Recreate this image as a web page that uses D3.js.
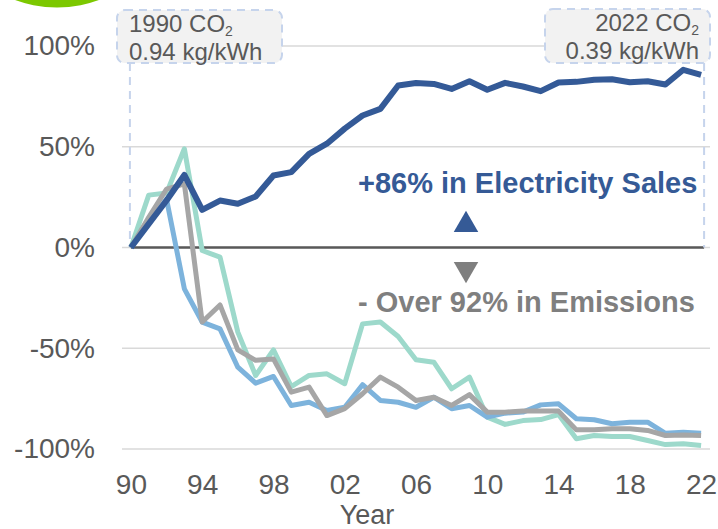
<!DOCTYPE html>
<html>
<head>
<meta charset="utf-8">
<script src="https://cdn.jsdelivr.net/npm/d3@7"></script>
<style>
  body { margin: 0; background: #fff; }
  svg { display: block; font-family: "Liberation Sans", Arial, sans-serif; }
</style>
</head>
<body>
<div id="chart"></div>
<script>
// Chart data (percent change vs 1990)
var years = d3.range(1990, 2023);
var tickYears = [1990, 1994, 1998, 2002, 2006, 2010, 2014, 2018, 2022];
var yTicks = [-100, -50, 0, 50, 100];

var sales = [0, 11.7, 23.3, 36, 18.7, 23.3, 21.7, 25.3, 35.7, 37.4, 46.5, 51.5, 59,
  65.5, 68.8, 80.4, 81.6, 81.2, 78.7, 82.5, 78.3, 81.7, 79.9, 77.6, 81.9, 82.2,
  83.2, 83.5, 82, 82.5, 80.9, 88.2, 85.7];
var emisTeal = [0, 26, 27, 49, -1.5, -4.8, -42, -63.5, -50.8, -69, -63.5, -62.7, -67.6,
  -37.9, -37, -44.2, -55.7, -56.9, -70.1, -64.3, -84.2, -87.8, -85.9, -85.4, -82.9,
  -94.9, -93.3, -93.8, -93.8, -95.8, -97.8, -97.4, -98.3];
var emisBlue = [0, 12.5, 24, -20.5, -37, -40.4, -59.4, -67.3, -64, -78.4, -76.8, -80.9,
  -79.3, -68.1, -75.9, -76.8, -79.3, -74.3, -80, -78.4, -84.2, -82.2, -81.7, -78.1,
  -77.6, -85, -85.5, -87.5, -86.7, -86.7, -92.2, -91.7, -92.2];
var emisGray = [0, 15, 29, 31.6, -37, -28.5, -50.8, -56, -55.3, -71.8, -69.3, -83.4,
  -80, -72.6, -64.3, -69.3, -75.9, -74.3, -78.4, -73, -81.7, -81.7, -81.2, -81.2,
  -81.2, -90.5, -90.5, -90, -90, -90.8, -93.3, -93, -93.3];

var seriesList = [
  {name: "teal", values: emisTeal, color: "#9dd9cb", width: 5},
  {name: "lightblue", values: emisBlue, color: "#7db3dc", width: 5},
  {name: "gray", values: emisGray, color: "#a6a6a6", width: 5},
  {name: "sales", values: sales, color: "#345a97", width: 6}
];

var width = 718, height = 529;
var plotLeft = 122, plotRight = 710;

var xScale = d3.scalePoint().domain(years).range([plotLeft, plotRight]).padding(0.5);
var yScale = d3.scaleLinear().domain([-100, 100]).range([449, 46]);

var svg = d3.select("#chart").append("svg")
  .attr("width", width)
  .attr("height", height);

svg.append("rect").attr("width", width).attr("height", height).attr("fill", "#fff");

// green blob at the top-left corner
svg.append("circle")
  .attr("cx", 57).attr("cy", -113.5).attr("r", 121)
  .attr("fill", "#7cc800");

// gridlines
svg.append("g")
  .selectAll("line")
  .data(yTicks)
  .enter().append("line")
  .attr("x1", plotLeft).attr("x2", plotRight)
  .attr("y1", function(d) { return yScale(d); })
  .attr("y2", function(d) { return yScale(d); })
  .attr("stroke", "#d9d9d9")
  .attr("stroke-width", 1.5);

// zero line
svg.append("line")
  .attr("x1", xScale(1990)).attr("x2", xScale(2022) + 3)
  .attr("y1", yScale(0)).attr("y2", yScale(0))
  .attr("stroke", "#595959")
  .attr("stroke-width", 2.5);

// y axis
var yAxis = d3.axisLeft(yScale).tickValues(yTicks).tickSize(0).tickPadding(27)
  .tickFormat(function(d) { return d + "%"; });
var gY = svg.append("g").attr("transform", "translate(" + plotLeft + ",0)").call(yAxis);
gY.select(".domain").remove();
gY.selectAll("text").attr("font-size", 28).attr("fill", "#595959")
  .attr("font-family", "Liberation Sans, Arial, sans-serif");

// x axis
var xAxis = d3.axisBottom(xScale).tickValues(tickYears).tickSize(0).tickPadding(25)
  .tickFormat(function(d) { return String(d).slice(2); });
var gX = svg.append("g").attr("transform", "translate(0,449)").call(xAxis);
gX.select(".domain").remove();
gX.selectAll("text").attr("font-size", 28).attr("fill", "#595959")
  .attr("font-family", "Liberation Sans, Arial, sans-serif");

svg.append("text")
  .attr("x", 367).attr("y", 524)
  .attr("text-anchor", "middle")
  .attr("font-size", 27)
  .attr("fill", "#595959")
  .text("Year");

// dashed callout leaders
var dashColor = "#c6d4ec";
svg.append("line")
  .attr("x1", xScale(1990) - 1).attr("x2", xScale(1990) - 1)
  .attr("y1", 63).attr("y2", yScale(0))
  .attr("stroke", dashColor).attr("stroke-width", 2).attr("stroke-dasharray", "8,6");
svg.append("line")
  .attr("x1", xScale(2022) + 3).attr("x2", xScale(2022) + 3)
  .attr("y1", 63).attr("y2", yScale(0))
  .attr("stroke", dashColor).attr("stroke-width", 2).attr("stroke-dasharray", "8,6");

// lines
var line = d3.line()
  .x(function(d, i) { return xScale(years[i]); })
  .y(function(d) { return yScale(d); });

svg.append("g")
  .selectAll("path")
  .data(seriesList)
  .enter().append("path")
  .attr("d", function(s) { return line(s.values); })
  .attr("fill", "none")
  .attr("stroke", function(s) { return s.color; })
  .attr("stroke-width", function(s) { return s.width; })
  .attr("stroke-linejoin", "round");

// callout boxes
function callout(x, y, w, h, anchor, tx, year, value) {
  svg.append("rect")
    .attr("x", x).attr("y", y).attr("width", w).attr("height", h)
    .attr("rx", 8).attr("ry", 8)
    .attr("fill", "#f2f2f2")
    .attr("stroke", dashColor).attr("stroke-width", 2).attr("stroke-dasharray", "8,6");
  var t1 = svg.append("text")
    .attr("x", tx).attr("y", y + 22)
    .attr("text-anchor", anchor)
    .attr("font-size", 24).attr("fill", "#595959");
  t1.append("tspan").text(year + " CO");
  t1.append("tspan").attr("font-size", 14).attr("dy", 4).text("2");
  svg.append("text")
    .attr("x", tx).attr("y", y + 50)
    .attr("text-anchor", anchor)
    .attr("font-size", 24).attr("fill", "#595959")
    .text(value);
}
callout(117, 10, 165, 53, "start", 129, "1990", "0.94 kg/kWh");
callout(545, 9, 165, 54, "end", 699, "2022", "0.39 kg/kWh");

// change annotations
svg.append("text")
  .attr("x", 358).attr("y", 193)
  .attr("font-size", 29).attr("font-weight", "bold").attr("fill", "#355a96")
  .text("+86% in Electricity Sales");
svg.append("text")
  .attr("x", 358).attr("y", 312)
  .attr("font-size", 29).attr("font-weight", "bold").attr("fill", "#7f7f7f")
  .text("- Over 92% in Emissions");

var tri = d3.symbol().type(d3.symbolTriangle).size(260);
svg.append("path")
  .attr("d", tri())
  .attr("transform", "translate(466,225)")
  .attr("fill", "#355a96");
svg.append("path")
  .attr("d", tri())
  .attr("transform", "translate(466,269) rotate(180)")
  .attr("fill", "#7f7f7f");
</script>
</body>
</html>
